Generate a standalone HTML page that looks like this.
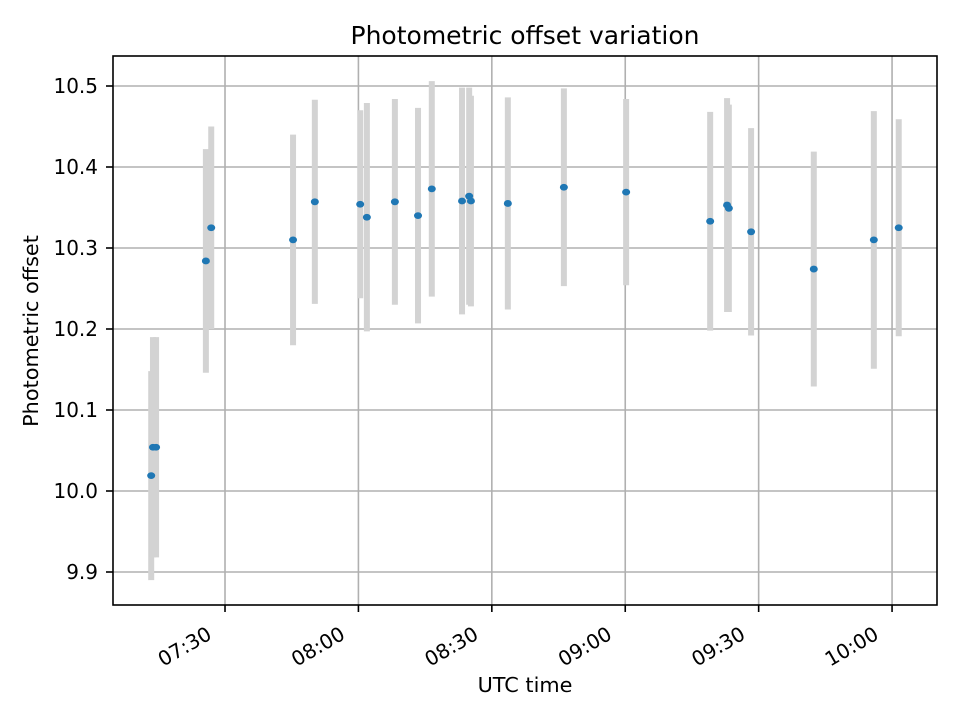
<!DOCTYPE html>
<html><head><meta charset="utf-8"><style>
html,body{margin:0;padding:0;background:#fff;}
svg{display:block;font-family:"DejaVu Sans","Liberation Sans",sans-serif;}
</style></head><body>
<svg id="chart" width="960" height="720" viewBox="0 0 960 720" xmlns="http://www.w3.org/2000/svg">
<rect x="0" y="0" width="960" height="720" fill="#fff"/>
<g id="grid"></g>
<g id="bars"></g>
<g id="pts"></g>
<rect x="113" y="56" width="824" height="549" fill="none" stroke="#000" stroke-width="1.6"/>
<g id="axes"></g>
<text x="525" y="44" font-size="25" text-anchor="middle">Photometric offset variation</text>
<text x="525" y="692" font-size="20.8" text-anchor="middle">UTC time</text>
<text x="38" y="331" font-size="20.8" text-anchor="middle" transform="rotate(-90 38 331)">Photometric offset</text>
</svg>
<script>
// minutes after 07:00 UTC
const times = [13.4,13.8,14.5,25.7,26.9,45.3,50.2,60.4,61.9,68.2,73.4,76.5,83.3,84.9,85.3,93.6,106.2,120.2,139.1,142.9,143.3,148.3,162.4,175.9,181.5];
const offsets = [10.019,10.054,10.054,10.284,10.325,10.310,10.357,10.354,10.338,10.357,10.340,10.373,10.358,10.364,10.358,10.355,10.375,10.369,10.333,10.353,10.349,10.320,10.274,10.310,10.325];
const errors = [0.129,0.136,0.136,0.138,0.125,0.130,0.126,0.116,0.141,0.127,0.133,0.133,0.140,0.134,0.130,0.131,0.122,0.115,0.135,0.132,0.128,0.128,0.145,0.159,0.134];
const yTicks = [9.9,10.0,10.1,10.2,10.3,10.4,10.5];
const xTickMinutes = [30,60,90,120,150,180];
const xTickLabels = ["07:30","08:00","08:30","09:00","09:30","10:00"];

const NS = "http://www.w3.org/2000/svg";
const L=113,R=937,T=56,B=605;
function xs(m){return 91.6 + 4.447*m;}
function ys(v){return 86 + (10.5 - v)*810;}
function mk(tag, attrs, parent){const e=document.createElementNS(NS,tag);for(const k in attrs)e.setAttribute(k,attrs[k]);parent.appendChild(e);return e;}
const grid=document.getElementById('grid'), axes=document.getElementById('axes');
const bars=document.getElementById('bars'), pts=document.getElementById('pts');

yTicks.forEach(v=>{
  const y=ys(v);
  const g=mk('line',{x1:L,x2:R,y1:y,y2:y,stroke:'#b0b0b0','stroke-width':1.6},grid);
  
  
  const t=mk('line',{x1:L-7,x2:L,y1:y,y2:y,stroke:'#000','stroke-width':1.6},axes);
  
  
  const lb=mk('text',{x:L-15,y:y+7,'font-size':20,'text-anchor':'end'},axes);
  lb.textContent=v.toFixed(1);
  
  
});
xTickMinutes.forEach((m,i)=>{
  const x=xs(m);
  const g=mk('line',{x1:x,x2:x,y1:T,y2:B,stroke:'#b0b0b0','stroke-width':1.6},grid);
  
  
  const t=mk('line',{x1:x,x2:x,y1:B,y2:B+7,stroke:'#000','stroke-width':1.6},axes);
  
  
  const ax=x-12, ay=638;
  const lb=mk('text',{x:ax,y:ay,'font-size':20,'text-anchor':'end',transform:'rotate(-30 '+ax+' '+ay+')'},axes);
  lb.textContent=xTickLabels[i];
  
  
});
times.forEach((m,i)=>{
  const x=xs(m);
  const b=mk('line',{x1:x,x2:x,y1:ys(offsets[i]+errors[i]),y2:ys(offsets[i]-errors[i]),stroke:'#d3d3d3','stroke-width':6},bars);
  
  
});
times.forEach((m,i)=>{
  const p=mk('ellipse',{cx:xs(m),cy:ys(offsets[i]),rx:4,ry:3.4,fill:'#1f77b4'},pts);
  
  
});
</script>
</body></html>
